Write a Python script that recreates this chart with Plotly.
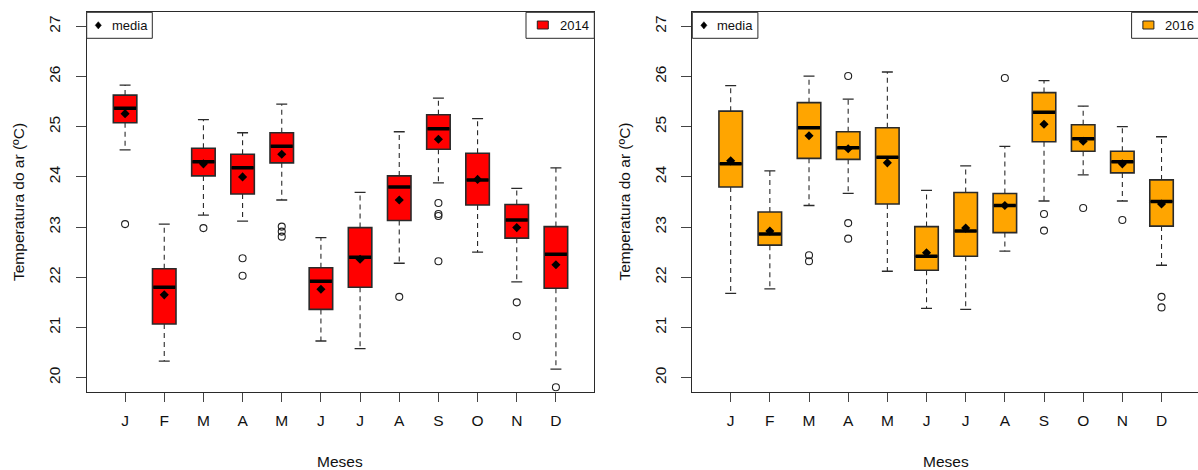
import plotly.graph_objects as go

# ---------------- data ----------------
months = ["J", "F", "M", "A", "M", "J", "J", "A", "S", "O", "N", "D"]
positions = list(range(1, 13))

# 2014
lo14 = [24.54, 20.33, 23.24, 23.12, 23.54, 20.73, 20.58, 22.28, 23.88, 22.50, 21.91, 20.17]
q1_14 = [25.08, 21.07, 24.02, 23.66, 24.28, 21.36, 21.80, 23.13, 24.55, 23.44, 22.78, 21.78]
med14 = [25.37, 21.80, 24.30, 24.18, 24.61, 21.92, 22.40, 23.80, 24.96, 23.94, 23.14, 22.46]
q3_14 = [25.63, 22.17, 24.57, 24.45, 24.88, 22.19, 22.99, 24.02, 25.24, 24.47, 23.45, 23.01]
hi14 = [25.83, 23.06, 25.14, 24.88, 25.45, 22.79, 23.69, 24.90, 25.57, 25.16, 23.77, 24.18]
mean14 = [25.26, 21.65, 24.26, 24.00, 24.45, 21.76, 22.36, 23.54, 24.75, 23.95, 22.99, 22.25]
out14 = [[23.06], [], [22.98], [22.38, 22.03], [23.01, 22.91, 22.81], [], [], [21.61],
         [23.48, 23.26, 23.22, 22.32], [], [21.50, 20.83], [19.81]]

# 2016
lo16 = [21.68, 21.77, 23.43, 23.67, 22.12, 21.38, 21.36, 22.52, 23.52, 24.04, 23.52, 22.24]
q1_16 = [23.80, 22.64, 24.37, 24.35, 23.46, 22.14, 22.42, 22.89, 24.70, 24.51, 24.08, 23.02]
med16 = [24.26, 22.86, 24.98, 24.58, 24.39, 22.42, 22.92, 23.43, 25.29, 24.76, 24.30, 23.51]
q3_16 = [25.31, 23.30, 25.48, 24.90, 24.98, 23.01, 23.69, 23.67, 25.68, 25.04, 24.51, 23.94]
hi16 = [25.82, 24.12, 26.01, 25.55, 26.09, 23.73, 24.22, 24.61, 25.92, 25.41, 25.00, 24.80]
mean16 = [24.32, 22.92, 24.82, 24.56, 24.28, 22.49, 22.98, 23.43, 25.05, 24.71, 24.26, 23.46]
out16 = [[], [], [22.44, 22.32], [26.01, 23.08, 22.77], [], [], [], [25.97],
         [23.26, 22.93], [23.38], [23.14], [21.61, 21.40]]

ytick_vals = [20, 21, 22, 23, 24, 25, 26, 27]

# ---------------- styling ----------------
W, H = 1198, 470
FONT = "Liberation Sans, Arial, sans-serif"
TXT = "#111111"
EDGE = "#2a2a2a"
BOXW = 0.6
CAPW = 0.28


def px(x):
    return x / W


def py(y):
    return 1 - y / H


fig = go.Figure()


def add_panel(xa, ya, lo, q1, med, q3, hi, mean, outs, fill):
    fig.add_trace(go.Box(
        x=positions, q1=q1, median=med, q3=q3, lowerfence=q1, upperfence=q3,
        width=BOXW, fillcolor=fill, line=dict(color=EDGE, width=1.6),
        boxpoints=False, xaxis=xa, yaxis=ya, showlegend=False, hoverinfo="skip",
    ))
    # dashed whiskers
    wx, wy = [], []
    for p, a, b, c, d in zip(positions, lo, q1, q3, hi):
        wx += [p, p, None, p, p, None]
        wy += [b, a, None, c, d, None]
    fig.add_trace(go.Scatter(x=wx, y=wy, mode="lines", xaxis=xa, yaxis=ya,
                             line=dict(color=EDGE, width=1.1, dash="5px,4px"),
                             showlegend=False, hoverinfo="skip"))
    # whisker caps
    cx, cy = [], []
    for p, a, d in zip(positions, lo, hi):
        cx += [p - CAPW / 2, p + CAPW / 2, None, p - CAPW / 2, p + CAPW / 2, None]
        cy += [a, a, None, d, d, None]
    fig.add_trace(go.Scatter(x=cx, y=cy, mode="lines", xaxis=xa, yaxis=ya,
                             line=dict(color=EDGE, width=1.3),
                             showlegend=False, hoverinfo="skip"))
    # thick medians
    mx, my = [], []
    for p, m in zip(positions, med):
        mx += [p - BOXW / 2 + 0.02, p + BOXW / 2 - 0.02, None]
        my += [m, m, None]
    fig.add_trace(go.Scatter(x=mx, y=my, mode="lines", xaxis=xa, yaxis=ya,
                             line=dict(color="black", width=3.5),
                             showlegend=False, hoverinfo="skip"))
    # outliers
    ox, oy = [], []
    for p, lst in zip(positions, outs):
        for v in lst:
            ox.append(p)
            oy.append(v)
    fig.add_trace(go.Scatter(x=ox, y=oy, mode="markers", xaxis=xa, yaxis=ya,
                             marker=dict(symbol="circle-open", size=7,
                                         color="#222", line=dict(width=1.1)),
                             showlegend=False, hoverinfo="skip"))
    # means
    fig.add_trace(go.Scatter(x=positions, y=mean, mode="markers", xaxis=xa, yaxis=ya,
                             marker=dict(symbol="diamond", size=7, color="black"),
                             showlegend=False, hoverinfo="skip"))


add_panel("x", "y", lo14, q1_14, med14, q3_14, hi14, mean14, out14, "#FF0000")
add_panel("x2", "y2", lo16, q1_16, med16, q3_16, hi16, mean16, out16, "#FFA500")

# panel geometry (pixels)
L1, R1 = 86.7, 594.3
L2 = 692.3
TOP, BOT = 12.3, 391.7
UNIT = (R1 - L1) / 12.96
x2_end = 0.02 + (W - L2) / UNIT

common_x = dict(tickmode="array", tickvals=positions, ticktext=months,
                ticks="outside", ticklen=9, tickcolor="#444", tickwidth=1,
                showgrid=False, zeroline=False, showline=True, linecolor=EDGE,
                linewidth=1.2, tickfont=dict(family=FONT, size=15.5, color=TXT),
                ticklabelstandoff=6)
common_y = dict(tickmode="array", tickvals=ytick_vals,
                ticks="outside", ticklen=10, tickcolor="#444", tickwidth=1,
                showgrid=False, zeroline=False, showline=True, linecolor=EDGE,
                linewidth=1.2, tickangle=-90, range=[19.72, 27.28],
                tickfont=dict(family=FONT, size=15.5, color=TXT),
                ticklabelstandoff=9)

fig.update_layout(
    width=W, height=H, margin=dict(l=0, r=0, t=0, b=0),
    paper_bgcolor="white", plot_bgcolor="white", showlegend=False,
    font=dict(family=FONT, color=TXT),
    xaxis=dict(domain=[px(L1), px(R1)], range=[0.02, 12.98], anchor="y", mirror=True, **common_x),
    yaxis=dict(domain=[py(BOT), py(TOP)], anchor="x", mirror=True, **common_y),
    xaxis2=dict(domain=[px(L2), 1.0], range=[0.02, x2_end], anchor="y2", mirror=True, **common_x),
    yaxis2=dict(domain=[py(BOT), py(TOP)], anchor="x2", mirror=False, **common_y),
)

shapes = []
annotations = []
OFFSET = L2 - L1
for k, (year, fill) in enumerate([("2014", "#FF0000"), ("2016", "#FFA500")]):
    off = k * OFFSET
    # "media" legend box
    shapes.append(dict(type="rect", xref="paper", yref="paper",
                       x0=px(L1 + off), x1=px(152.3 + off), y0=py(38.3), y1=py(TOP),
                       line=dict(color=EDGE, width=1), fillcolor="white", layer="above"))
    cxm, cym, r = 98.3 + off, 25.3, 3.6
    shapes.append(dict(type="path", xref="paper", yref="paper",
                       path=f"M {px(cxm)} {py(cym - r)} L {px(cxm + r * 0.85)} {py(cym)} "
                            f"L {px(cxm)} {py(cym + r)} L {px(cxm - r * 0.85)} {py(cym)} Z",
                       fillcolor="black", line=dict(color="black", width=0.5), layer="above"))
    annotations.append(dict(text="media", xref="paper", yref="paper", x=px(109.5 + off),
                            y=py(25.8), xanchor="left", yanchor="middle", showarrow=False,
                            font=dict(family=FONT, size=13, color=TXT)))
    # year legend box
    shapes.append(dict(type="rect", xref="paper", yref="paper",
                       x0=px(526 + off), x1=px(R1 + off), y0=py(38.3), y1=py(TOP),
                       line=dict(color=EDGE, width=1), fillcolor="white", layer="above"))
    shapes.append(dict(type="rect", xref="paper", yref="paper",
                       x0=px(537.3 + off), x1=px(548.3 + off), y0=py(29), y1=py(21),
                       line=dict(color="#222", width=1), fillcolor=fill, layer="above"))
    annotations.append(dict(text=year, xref="paper", yref="paper", x=px(557.5 + off),
                            y=py(25.8), xanchor="left", yanchor="middle", showarrow=False,
                            font=dict(family=FONT, size=13, color=TXT)))
    # axis titles
    annotations.append(dict(text="Temperatura do ar (ºC)", xref="paper", yref="paper",
                            x=px(18 + off), y=py((TOP + BOT) / 2), textangle=-90,
                            xanchor="center", yanchor="middle", showarrow=False,
                            font=dict(family=FONT, size=15.5, color=TXT)))
    annotations.append(dict(text="Meses", xref="paper", yref="paper",
                            x=px((L1 + R1) / 2 + off), y=py(461),
                            xanchor="center", yanchor="middle", showarrow=False,
                            font=dict(family=FONT, size=15.5, color=TXT)))

fig.update_layout(shapes=shapes, annotations=annotations)
fig.write_html("out.html")
